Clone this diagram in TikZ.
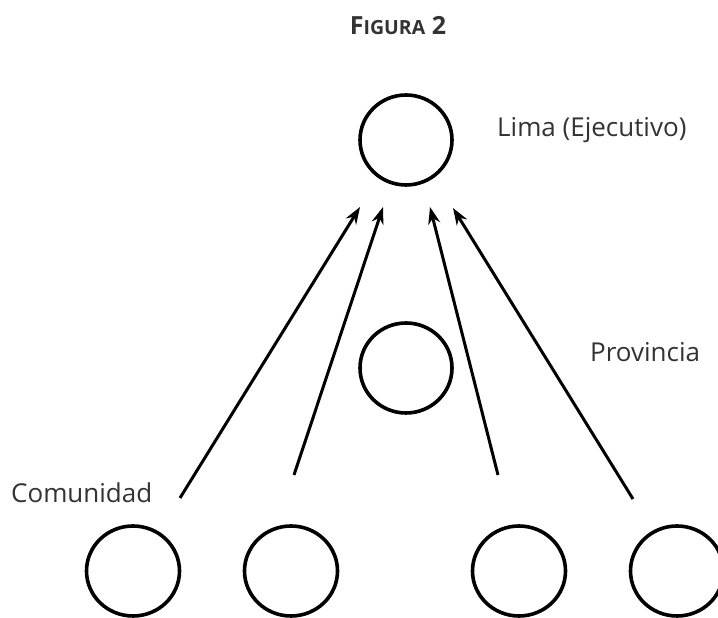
\documentclass[tikz,border=0pt]{standalone}
\usepackage{fontspec}
\setmainfont{Open Sans}
\usetikzlibrary{arrows.meta,shapes.geometric}
\begin{document}
\begin{tikzpicture}[x=1pt,y=1pt,
  unit/.style={draw=black,line width=3.6pt,ellipse,minimum width=#1,minimum height=90pt,inner sep=0pt},
  unit/.default=92pt,
  flow/.style={line width=3pt,-{Stealth[length=17pt,width=12pt]}},
  lbl/.style={anchor=west,inner sep=0pt,text=black!80,font=\fontsize{26}{30}\selectfont}]
\useasboundingbox (0,0) rectangle (718,618);
\node[anchor=center,inner sep=0pt,text=black!80,font=\fontsize{25}{28}\selectfont\bfseries] (title) at (398,592) {F{\fontsize{19.5}{22}\selectfont IGURA} 2};
\node[unit] (top) at (406,478) {};
\node[unit] (mid) at (406,250) {};
\node[unit=93pt] (b1) at (133,47) {};
\node[unit=93pt] (b2) at (291,47) {};
\node[unit=93pt] (b3) at (519,47) {};
\node[unit=93pt] (b4) at (677,47) {};
\node[lbl] (lima) at (497,488) {Lima (Ejecutivo)};
\node[lbl] (prov) at (590,266) {Provincia};
\node[lbl] (com) at (11,125) {Comunidad};
\coordinate (s1) at (180,120);
\coordinate (e1) at (360,411);
\coordinate (s2) at (294,143);
\coordinate (e2) at (383,411);
\coordinate (s3) at (498,143);
\coordinate (e3) at (430,411);
\coordinate (s4) at (633,119);
\coordinate (e4) at (453,410);
\draw[flow] (s1) -- (e1);
\draw[flow] (s2) -- (e2);
\draw[flow] (s3) -- (e3);
\draw[flow] (s4) -- (e4);
\end{tikzpicture}
\end{document}
